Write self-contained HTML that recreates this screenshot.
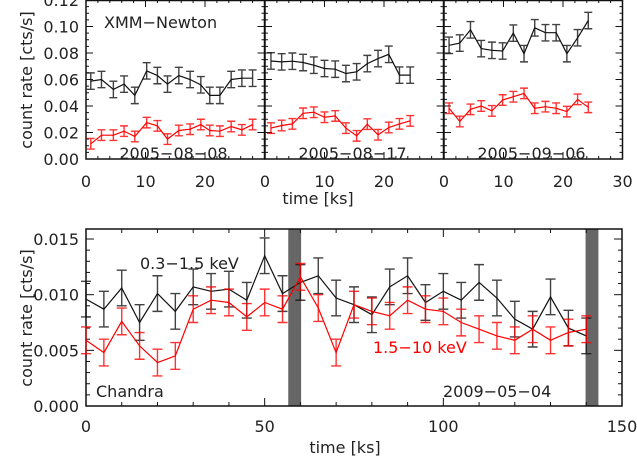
<!DOCTYPE html>
<html><head><meta charset="utf-8"><style>
body{margin:0;background:#fff}
svg{display:block;font-family:"DejaVu Sans","Liberation Sans",sans-serif}
</style></head><body>
<svg id="s" width="637" height="459" viewBox="0 0 637 459" xmlns="http://www.w3.org/2000/svg"></svg>
<script>
// XMM panels
const xmm1T=[0.8,2.6,4.6,6.4,8.2,10.2,12,13.7,15.6,17.5,19.3,20.8,22.5,24.4,26.2,28];
const xmm1Soft=[0.0588,0.060,0.0525,0.0565,0.048,0.0665,0.063,0.0565,0.063,0.060,0.056,0.048,0.048,0.060,0.061,0.061];
const xmm1Hard=[0.0115,0.018,0.018,0.021,0.017,0.0275,0.025,0.015,0.0215,0.0225,0.026,0.0215,0.021,0.0245,0.022,0.026];
const xmm2T=[1,2.8,4.6,6.4,8.2,10,11.8,13.6,15.4,17.2,19,20.8,22.6,24.4];
const xmm2Soft=[0.074,0.0733,0.0738,0.0728,0.0708,0.0683,0.0678,0.0645,0.0658,0.072,0.0758,0.079,0.0633,0.0633];
const xmm2Hard=[0.0233,0.0253,0.0265,0.0345,0.0353,0.0315,0.0325,0.0233,0.0175,0.0263,0.0183,0.0238,0.0265,0.0288];
const xmm3T=[0.85,2.65,4.45,6.25,8.05,9.85,11.65,13.45,15.25,17.05,18.85,20.65,22.45,24.25];
const xmm3Soft=[0.0858,0.0875,0.0975,0.0833,0.082,0.0815,0.095,0.0795,0.099,0.0953,0.0953,0.0795,0.0915,0.1045];
const xmm3Hard=[0.0383,0.0283,0.0375,0.040,0.0363,0.0445,0.047,0.0495,0.0383,0.0395,0.0383,0.0358,0.045,0.039];
const xmmDates=["2005−08−08","2005−08−17","2005−09−06"];
const xmmYTicks=["0.00","0.02","0.04","0.06","0.08","0.10","0.12"];
// Chandra
const chT=[0,5,10,15,20,25,30,35,40,45,50,55,60,65,70,75,80,85,90,95,100,105,110,115,120,125,130,135,140];
const chSoft=[0.0096,0.0087,0.0106,0.0075,0.0101,0.0085,0.0107,0.0103,0.0105,0.0095,0.0135,0.0101,0.0111,0.0117,0.0097,0.0091,0.0082,0.0107,0.0117,0.0093,0.0103,0.0095,0.0111,0.0097,0.0078,0.0069,0.0098,0.0070,0.0063];
const chHard=[0.0059,0.0048,0.0076,0.0054,0.0039,0.0045,0.0087,0.0095,0.0093,0.0080,0.0093,0.0087,0.0116,0.0088,0.0048,0.0091,0.0085,0.0081,0.0095,0.0087,0.0085,0.0075,0.0069,0.0063,0.0059,0.0069,0.0059,0.0066,0.0069];
const chSoftErr=0.0016, chHardErr=0.0012, xmmSoftErr=0.0062, xmmHardErr=0.004;
const chGaps=[[56.6,60.2],[139.8,143.4]];
const chYTicks=["0.000","0.005","0.010","0.015"];
const chXTicks=[0,50,100,150];

const S=document.getElementById('s');
const NS='http://www.w3.org/2000/svg';
function mk(tag,attrs,parent){const e=document.createElementNS(NS,tag);for(const k in attrs)e.setAttribute(k,attrs[k]);(parent||S).appendChild(e);return e;}
function txt(x,y,s,anchor,size,fill,parent){const e=mk('text',{x:x,y:y,'text-anchor':anchor||'start','font-size':size||16,fill:fill||'#222'},parent);e.textContent=s;return e;}

function series(g,T,V,err,X,Y,color,capw){
  let d='';
  T.forEach((t,i)=>{d+=(i?'L':'M')+X(t).toFixed(1)+' '+Y(V[i]).toFixed(1);});
  const p=mk('path',{d:d,fill:'none',stroke:color,'stroke-width':1.2},g);
  
  
  T.forEach((t,i)=>{
    const x=X(t),y1=Y(V[i]-err),y2=Y(V[i]+err);
    const e=mk('path',{d:`M${x} ${y1}V${y2}M${x-capw} ${y1}H${x+capw}M${x-capw} ${y2}H${x+capw}`,stroke:color,'stroke-width':1.4,opacity:0.8,fill:'none'},g);
    
    
  });
}

// Top panels
const pT=0,pB=159,lefts=[86,265,444],pw=178.5;
const YT=v=>pB-v*(pB-pT)/0.12;
const panels=[[xmm1T,xmm1Soft,xmm1Hard],[xmm2T,xmm2Soft,xmm2Hard],[xmm3T,xmm3Soft,xmm3Hard]];
panels.forEach((pd,k)=>{
  const L=lefts[k];const X=t=>L+t*pw/30;
  const g=mk('g',{});
  
  
  mk('rect',{x:L,y:pT+0.5,width:pw,height:pB-pT-0.5,fill:'none',stroke:'#111','stroke-width':1.5},g);
  for(let v=0;v<=0.12001;v+=0.005){const y=YT(v);const major=Math.abs(v/0.02-Math.round(v/0.02))<1e-6;const l=major?7:3;
    mk('line',{x1:L,x2:L+l,y1:y,y2:y,stroke:'#111'},g);mk('line',{x1:L+pw,x2:L+pw-l,y1:y,y2:y,stroke:'#111'},g);}
  for(let t=0;t<=30;t+=2){const x=X(t);const l=t%10==0?7:3;
    mk('line',{x1:x,x2:x,y1:pB,y2:pB-l,stroke:'#111'},g);mk('line',{x1:x,x2:x,y1:pT,y2:pT+l,stroke:'#111'},g);}
  series(g,pd[0],pd[1],xmmSoftErr,X,YT,'#111',4);
  series(g,pd[0],pd[2],xmmHardErr,X,YT,'#f00',4);
  const dt=txt(L+pw*0.49,159,xmmDates[k],'middle',16,'#222',g);
  
  
  const ticks=k==2?[0,10,20,30]:[0,10,20];
  ticks.forEach(t=>{const e=txt(X(t),187,String(t),'middle',16,'#222',g);
    
    });
});
xmmYTicks.forEach(s=>{const e=txt(79,YT(parseFloat(s))+6,s,'end',16);
  
  });
let e1=txt(104,28,'XMM−Newton','start',16);


let e2=txt(318,204,'time [ks]','middle',16);


let e3=txt(0,0,'count rate [cts/s]','middle',16);
e3.setAttribute('transform','translate(32,80) rotate(-90)');



// Bottom panel
const bL=86,bR=622,bT=229,bB=406;
const XB=t=>bL+t*(bR-bL)/150;
const YB=v=>bB-v*(bB-bT)/0.0159;
const gb=mk('g',{});


chGaps.forEach(g2=>{const r=mk('rect',{x:XB(g2[0]),y:bT,width:XB(g2[1])-XB(g2[0]),height:bB-bT,fill:'#666'},gb);
  
  });
mk('rect',{x:bL,y:bT,width:bR-bL,height:bB-bT,fill:'none',stroke:'#111','stroke-width':1.5},gb);
for(let i=0;i<=15;i++){const v=i*0.001;const y=YB(v);const l=i%5==0?8:4;
  mk('line',{x1:bL,x2:bL+l,y1:y,y2:y,stroke:'#111'},gb);mk('line',{x1:bR,x2:bR-l,y1:y,y2:y,stroke:'#111'},gb);}
for(let t=0;t<=150;t+=10){const x=XB(t);const l=t%50==0?8:4;
  mk('line',{x1:x,x2:x,y1:bB,y2:bB-l,stroke:'#111'},gb);mk('line',{x1:x,x2:x,y1:bT,y2:bT+l,stroke:'#111'},gb);}
series(gb,chT,chSoft,chSoftErr,XB,YB,'#111',5);
series(gb,chT,chHard,chHardErr,XB,YB,'#f00',5);
chYTicks.forEach(s=>{const e=txt(79,YB(parseFloat(s))+6,s,'end',16);
  
  });
chXTicks.forEach(t=>{const e=txt(XB(t),432,String(t),'middle',16);
  
  });
let b1=txt(140,269,'0.3−1.5 keV','start',16);


let b2=txt(373,353,'1.5−10 keV','start',16,'#f00');


let b3=txt(96,397,'Chandra','start',16);


let b4=txt(443,397,'2009−05−04','start',16);


let b5=txt(345,453,'time [ks]','middle',16);


let b6=txt(0,0,'count rate [cts/s]','middle',16);
b6.setAttribute('transform','translate(32,318) rotate(-90)');


</script>
</body></html>
